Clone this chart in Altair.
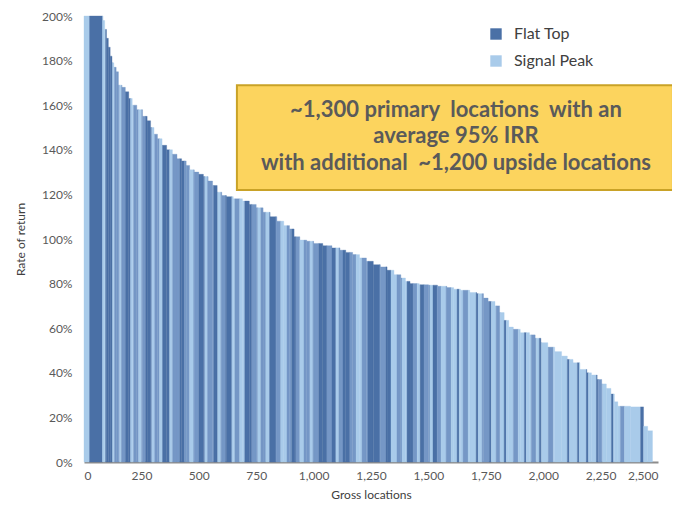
import altair as alt
import pandas as pd

# Envelope of the sorted rate-of-return curve: start location of each step and its rate (%)
env_start = [0, 82, 90, 98, 106, 114, 122, 130, 140, 150, 165, 180, 195, 210, 230, 255, 275, 290,
             305, 320, 340, 360, 385, 405, 425, 445, 460, 480, 500, 520, 540, 560, 580, 600, 620,
             650, 690, 720, 750, 780, 810, 840, 870, 895, 915, 940, 970, 1000, 1040, 1080, 1115,
             1140, 1170, 1200, 1230, 1260, 1290, 1320, 1350, 1380, 1400, 1420, 1460, 1500, 1540,
             1580, 1610, 1640, 1680, 1710, 1740, 1760, 1790, 1810, 1830, 1850, 1870, 1900, 1940,
             1965, 1990, 2020, 2050, 2080, 2105, 2130, 2160, 2190, 2210, 2235, 2255, 2275, 2295,
             2310, 2325, 2380, 2437, 2455]
env_rate = [200, 198, 194, 190, 186, 182, 179, 177, 175, 169, 168, 166, 163, 160, 158, 155, 153, 150,
            147, 145, 142, 140, 138, 136, 135, 133, 131, 130, 129, 128, 126, 124, 121, 119.5, 119,
            118, 117, 115.5, 114, 112, 110, 108, 106, 104.5, 101, 99.5, 99, 98, 97, 96, 95,
            94, 93, 91.5, 90, 88.5, 87.5, 86, 84, 82.5, 81, 80, 79.5, 79.3, 78.8,
            78.2, 77.5, 77, 76, 75.5, 73.5, 72, 70, 67, 63.5, 60.5, 59.5, 58, 57,
            55.5, 53.5, 51.5, 49.5, 47.5, 46, 44.5, 41.5, 40, 39, 37, 35, 33, 30.5,
            27, 25, 24.7, 16, 14]
last_location = 2476

# Colour runs along the x axis: start location of each run and its field
# ("Mixed" = stripes where both fields interleave below one pixel)
run_start = [0, 24, 81, 94, 124, 133, 155, 164, 181, 203, 216, 238, 251, 268, 295, 308, 329, 342,
             373, 386, 417, 438, 460, 478, 500, 526, 539, 565, 582, 596, 617, 644, 657, 678, 700,
             731, 757, 770, 792, 809, 836, 857, 884, 905, 923, 940, 958, 984, 997, 1023, 1058,
             1080, 1097, 1110, 1128, 1158, 1185, 1211, 1237, 1289, 1315, 1337, 1363, 1385, 1407,
             1433, 1451, 1464, 1481, 1507, 1520, 1538, 1555, 1577, 1599, 1625, 1634, 1651, 1673,
             1708, 1717, 1734, 1765, 1774, 1795, 1813, 1830, 1839, 1870, 1891, 1918, 1926, 1948,
             1970, 1983, 1992, 2022, 2044, 2105, 2114, 2149, 2157, 2188, 2197, 2232, 2240, 2258,
             2297, 2306, 2336, 2354, 2424, 2437]
run_field = ["S", "F", "S", "F", "S", "M", "S", "M", "F", "S", "M", "S", "M", "F", "S", "M", "S", "F",
             "S", "M", "F", "M", "S", "M", "F", "S", "M", "F", "S", "M", "F", "S", "M", "S", "F",
             "M", "S", "M", "S", "F", "M", "S", "M", "F", "M", "S", "M", "S", "M", "F", "M",
             "F", "S", "M", "F", "M", "S", "M", "F", "M", "F", "S", "M", "S", "F",
             "M", "S", "F", "M", "S", "F", "M", "S", "M", "S", "F", "S", "M", "S",
             "F", "S", "M", "F", "S", "M", "S", "F", "S", "M", "S", "F", "S", "M",
             "S", "F", "S", "M", "S", "F", "S", "F", "S", "F", "S", "F", "M", "S",
             "F", "S", "M", "S", "F", "S"]

field_names = {"F": "Flat Top", "S": "Signal Peak", "M": "Mixed"}

NB = "\u00a0"
annotation_lines = ["~1,300 primary " + NB + "locations " + NB + "with an",
                    "average 95% IRR",
                    "with additional " + NB + "~1,200 upside locations"]

# ---- build rectangles (one per constant stretch of rate and field) ----
cuts = sorted(set(env_start) | set(run_start))
rows = []
for i, a in enumerate(cuts):
    b = cuts[i + 1] if i + 1 < len(cuts) else last_location
    rate = [r for s, r in zip(env_start, env_rate) if s <= a][-1]
    fld = [f for s, f in zip(run_start, run_field) if s <= a][-1]
    rows.append({"start": a, "end": b, "rate": rate, "base": 0, "field": field_names[fld]})
df = pd.DataFrame(rows)

xscale = alt.Scale(domain=[0, 2500], nice=False, zero=False)
yscale = alt.Scale(domain=[0, 200], nice=False)
field_scale = alt.Scale(domain=["Flat Top", "Signal Peak", "Mixed"],
                        range=["#4a70a6", "#a9cbea", "#7597c6"])

color = alt.Color(
    "field:N",
    scale=field_scale,
    legend=alt.Legend(
        title=None, values=["Flat Top", "Signal Peak"], orient="none",
        legendX=404, legendY=10, symbolType="square", symbolSize=130,
        symbolStrokeWidth=0, labelFontSize=16, labelColor="#404040", labelFont="Lato",
        rowPadding=11, labelOffset=10,
    ),
)

bars = alt.Chart(df).mark_rect(strokeWidth=0.35).encode(
    x=alt.X("start:Q", scale=xscale,
            axis=alt.Axis(title="Gross locations", values=list(range(0, 2501, 250)), format=",.0f",
                          grid=False, ticks=False, domainColor="#8c8c8c", domainWidth=2,
                          labelFont="Lato", labelFontSize=12, labelColor="#595959", labelPadding=8,
                          titleFont="Lato", titleFontSize=12, titleFontWeight="normal",
                          titleColor="#404040", titlePadding=8)),
    x2="end:Q",
    y=alt.Y("base:Q", scale=yscale,
            axis=alt.Axis(title="Rate of return", values=list(range(0, 201, 20)),
                          labelExpr="datum.value + '%'", grid=False, ticks=False, domain=False,
                          labelFont="Lato", labelFontSize=12, labelColor="#595959", labelPadding=12,
                          titleFont="Lato", titleFontSize=12, titleFontWeight="normal",
                          titleColor="#404040", titlePadding=14)),
    y2="rate:Q",
    color=color,
    stroke=alt.Color("field:N", scale=field_scale, legend=None),
)

box_df = pd.DataFrame({"x": [666], "x2": [2565], "y": [122], "y2": [169]})
box = alt.Chart(box_df).mark_rect(fill="#fcd45e", stroke="#c9a227", strokeWidth=2).encode(
    x=alt.X("x:Q", scale=xscale), x2="x2:Q", y=alt.Y("y:Q", scale=yscale), y2="y2:Q"
)

text_df = pd.DataFrame({"text": annotation_lines, "x": [1620] * 3, "y": [157.8, 146.2, 134.1]})
text = alt.Chart(text_df).mark_text(font="Lato", fontSize=22, fontWeight="bold",
                                    color="#5a5a5a", align="center", baseline="middle").encode(
    x=alt.X("x:Q", scale=xscale), y=alt.Y("y:Q", scale=yscale), text="text:N"
)

chart = alt.layer(bars, box, text).properties(
    width=574, height=446,
    autosize=alt.AutoSizeParams(type="none"),
    padding={"left": 76, "top": 8, "right": 14, "bottom": 40},
).configure_view(stroke=None)

chart.save("out.html", embed_options={"renderer": "svg", "actions": False})
